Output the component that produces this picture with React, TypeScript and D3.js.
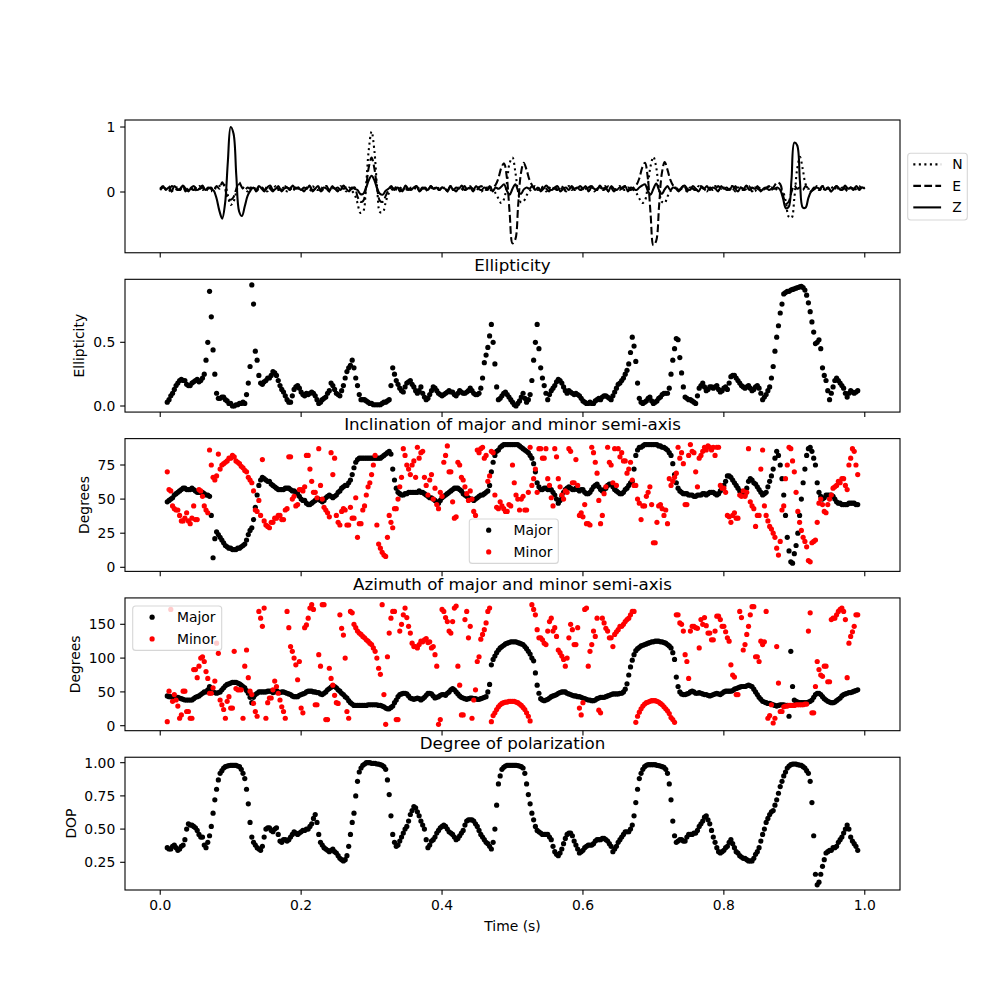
import React from 'react';
import * as d3 from 'd3';

// ---------- DATA ----------
// Seismogram traces (hundredths), rows of 25 samples, t = 0.1*row + 0.004*col
const TRACE_N: number[][] = [
  [7,3,5,9,1,5,7,3,9,5,3,7,1,5,9,3,7,5,1,7,5,9,12,10,-5],
  [-20,-15,0,12,8,5,1,7,3,9,5,7,3,1,7,5,9,3,5,7,1,5,9,3,7],
  [3,7,5,1,9,5,3,7,5,9,1,5,7,3,7,5,1,7,2,-4,-17,-32,-30,8,65],
  [93,63,5,-31,-31,-16,-3,2,7,3,5,9,1,7,5,3,9,5,7,1,5,7,3,9,5],
  [5,7,1,9,3,5,7,5,1,7,9,3,5,7,1,5,7,3,3,-2,-10,-17,-11,14,45],
  [53,31,0,-16,-14,-5,1,5,9,3,7,5,1,7,3,9,5,7,1,5,9,3,7,5,3],
  [7,5,1,9,5,3,7,5,9,1,7,3,5,9,5,3,7,5,3,-2,-10,-17,-13,10,40],
  [54,38,3,-15,-17,-7,1,5,7,3,9,5,1,7,5,3,9,7,5,1,7,5,9,3,5],
  [7,3,5,9,1,7,5,3,7,9,5,1,7,5,3,9,5,7,3,5,5,0,-15,-38,-40],
  [-10,35,54,35,12,5,7,3,9,5,1,7,5,9,3,7,5,1,9,5,7,3,5,9,5],
  [7],
];
const TRACE_E: number[][] = [
  [3,7,5,1,9,7,3,5,9,1,7,5,3,9,5,7,1,5,7,3,9,5,15,5,-10],
  [-12,-8,5,15,7,3,7,5,9,1,5,7,3,9,5,1,7,5,3,9,7,5,1,7,5],
  [5,1,7,9,3,5,7,1,5,9,3,7,5,1,9,5,7,3,5,7,-7,-15,-14,6,38],
  [53,36,5,-14,-15,-6,3,7,5,9,1,5,7,3,7,5,9,1,7,5,3,9,5,7,3],
  [7,5,3,9,5,1,7,5,9,3,7,5,1,7,9,5,3,7,7,11,21,37,44,22,-33],
  [-79,-73,-21,29,45,34,19,10,5,7,3,9,5,1,7,5,3,9,7,1,5,7,3,5,9],
  [5,3,7,9,1,5,7,3,5,9,7,1,5,3,7,9,5,3,7,11,21,37,45,22,-34],
  [-82,-75,-22,29,46,34,19,10,7,3,5,9,1,7,5,3,7,9,5,1,7,3,5,9,5],
  [7,3,5,1,9,5,7,3,5,9,1,7,5,3,7,5,9,3,10,15,12,-5,-18,-15,0],
  [10,5,7,3,9,5,1,7,5,3,9,5,7,1,5,9,3,7,5,1,7,5,9,3,7],
  [5],
];
const TRACE_Z: number[][] = [
  [5,9,3,7,1,9,5,3,10,5,1,7,9,3,5,10,3,7,5,2,-10,-29,-41,-18,47],
  [100,90,25,-30,-37,-22,-6,2,7,3,9,5,1,7,10,3,5,9,1,5,7,3,10,5,7],
  [3,7,5,10,1,5,9,3,7,5,1,9,5,7,3,10,5,1,7,5,3,-3,-3,6,18],
  [25,18,5,-3,-4,2,5,9,3,7,5,1,10,5,3,7,9,1,5,7,3,9,5,7,3],
  [7,5,1,9,3,7,5,10,3,5,7,1,9,5,3,7,5,9,1,7,5,8,12,2,-4],
  [5,12,2,-3,4,7,5,9,3,7,1,5,10,5,3,7,9,1,5,7,3,9,5,7,3],
  [5,9,1,7,5,3,10,5,7,1,9,5,3,7,5,9,1,7,5,3,7,10,12,2,-4],
  [5,13,3,-3,4,9,3,7,5,1,7,10,5,3,9,5,1,7,5,9,3,7,5,1,9],
  [5,7,3,9,5,1,7,5,10,3,7,5,9,1,5,7,3,5,5,7,3,-10,-25,-23,19],
  [76,72,16,-24,-24,-9,1,4,7,5,9,3,7,1,5,9,5,3,10,5,7,3,9,5,7],
  [5],
];
const TRACE_LABELS = ['N', 'E', 'Z'];

// Dot series, rows of 10 samples.
// "A" arrays: t = 0.01 + 0.05*row + 0.005*col ; "B" arrays: same times + 0.0025
const ELLIPTICITY_A: number[][] = [
  [.03,.08,.13,.18,.21,.2,.16,.18,.2,.19],
  [.22,.36,.9,.44,.1,.06,.07,.04,.02,0],
  [.01,.02,.02,.18,.95,.43,.24,.17,.2,.22],
  [.27,.24,.16,.11,.05,.03,.13,.16,.11,.08],
  [.09,.11,.08,.02,.05,.07,.12,.16,.1,.08],
  [.16,.27,.32,.3,.16,.05,.05,.03,.02,.01],
  [.01,.02,.03,.05,.3,.2,.14,.11,.18,.2],
  [.15,.1,.15,.07,.06,.12,.14,.1,.08,.1],
  [.12,.11,.08,.12,.1,.11,.14,.1,.09,.14],
  [.34,.46,.64,.33,.05,.08,.11,.07,.03,0],
  [.04,.1,.03,.09,.36,.64,.3,.16,.05,.12],
  [.16,.21,.18,.12,.12,.1,.1,.08,.04,.02],
  [.03,.02,.05,.05,.08,.07,.05,.11,.17,.2],
  [.25,.33,.54,.35,.06,.02,.04,.07,.02,.04],
  [.07,.1,.1,.25,.45,.52,.26,.07,.05,.04],
  [.02,.14,.18,.12,.15,.14,.16,.11,.14,.13],
  [.23,.24,.2,.16,.14,.16,.12,.15,.14,.05],
  [.09,.15,.31,.54,.73,.88,.9,.91,.92,.93],
  [.94,.91,.81,.66,.49,.52,.3,.2,.05,.15],
  [.22,.18,.14,.07,.12,.1,.12],
];
const ELLIPTICITY_B: number[][] = [
  [.05,.1,.16,.2,.2,.17,.16,.19,.21,.2],
  [.25,.5,.7,.25,.06,.07,.05,.02,0,.01],
  [.02,.03,.09,.31,.8,.36,.18,.19,.22,.24],
  [.26,.2,.13,.08,.03,.08,.15,.14,.09,.1],
  [.1,.1,.05,.03,.06,.1,.18,.13,.09,.12],
  [.22,.3,.36,.22,.09,.05,.04,.02,.01,.01],
  [.01,.03,.04,.16,.25,.17,.12,.15,.19,.17],
  [.12,.12,.1,.05,.09,.15,.12,.09,.09,.11],
  [.11,.09,.1,.11,.1,.12,.12,.09,.1,.22],
  [.4,.55,.5,.15,.06,.1,.09,.05,.01,.02],
  [.07,.06,.05,.2,.5,.45,.22,.1,.09,.14],
  [.19,.2,.15,.1,.11,.09,.09,.06,.03,.02],
  [.02,.04,.06,.07,.08,.06,.08,.14,.18,.22],
  [.28,.42,.47,.18,.03,.03,.06,.04,.03,.06],
  [.09,.1,.14,.36,.53,.38,.15,.06,.05,.03],
  [.08,.16,.15,.13,.15,.15,.13,.12,.15,.18],
  [.24,.22,.18,.15,.15,.14,.13,.16,.1,.07],
  [.12,.22,.43,.63,.8,.89,.9,.915,.925,.935],
  [.93,.87,.74,.58,.5,.45,.24,.12,.1,.2],
  [.2,.16,.1,.1,.11,.11],
];
const INCL_MAJOR_A: number[][] = [
  [48,50,53,55,57,58,57,58,56,55],
  [55,53,52,7,26,22,18,15,14,13],
  [14,15,17,24,29,44,60,66,64,63],
  [60,58,57,57,58,57,56,54,50,49],
  [46,47,49,50,48,51,53,51,53,56],
  [59,60,64,73,79,80,80,80,80,80],
  [80,81,83,85,72,58,54,53,54,55],
  [55,55,55,54,52,51,49,47,51,53],
  [55,57,58,57,54,52,50,49,51,53],
  [54,56,70,82,86,89,90,90,90,90],
  [89,87,85,82,76,62,57,58,57,57],
  [53,47,52,57,59,57,58,56,57,54],
  [55,59,61,57,57,60,61,57,55,54],
  [57,60,63,82,88,89,90,90,90,90],
  [89,88,86,82,68,58,55,54,53,53],
  [52,53,54,53,55,55,53,56,60,67],
  [66,62,58,55,53,63,64,61,57,53],
  [55,63,72,85,75,53,22,4,10,25],
  [50,72,87,85,75,55,50,53,53,52],
  [48,47,46,46,47,47,46],
];
const INCL_MAJOR_B: number[][] = [
  [49,51,54,56,58,57,57,57,55,55],
  [54,53,38,21,24,20,16,14,13,13],
  [14,16,20,27,35,53,64,65,63,61],
  [59,57,57,58,58,56,55,52,49,47],
  [46,48,50,49,49,52,52,52,55,58],
  [60,62,68,77,80,80,80,80,80,80],
  [80,82,84,83,64,55,53,54,55,55],
  [55,56,55,53,51,50,48,49,52,54],
  [56,58,58,56,53,51,50,50,52,53],
  [55,60,77,85,88,90,90,90,90,90],
  [88,86,84,80,70,59,57,58,57,55],
  [50,49,55,58,58,57,57,57,55,54],
  [57,60,59,56,58,61,59,56,54,55],
  [58,62,72,86,88,90,90,90,90,89],
  [88,87,84,76,62,56,54,54,53,52],
  [53,53,54,54,55,54,54,58,63,67],
  [64,60,56,54,58,65,62,59,55,54],
  [59,67,80,82,65,38,12,3,16,38],
  [62,82,88,80,62,52,51,53,53,50],
  [47,46,46,47,47,46],
];
const INCL_MINOR_A: number[][] = [
  [70,56,43,42,34,36,34,36,35,57],
  [52,42,86,66,67,72,76,78,80,81],
  [77,74,71,66,62,42,49,79,31,29],
  [33,36,38,35,43,81,52,46,57,59],
  [82,63,55,87,50,42,37,68,38,31],
  [43,31,44,36,22,32,45,59,68,82],
  [17,11,8,38,29,43,59,87,75,68],
  [78,88,84,66,53,68,58,43,52,82],
  [70,48,37,75,64,54,56,41,86,87],
  [80,63,85,53,43,45,41,46,75,53],
  [42,52,42,88,65,55,87,80,65,51],
  [87,65,53,56,87,62,79,38,37,32],
  [31,84,69,32,54,88,75,87,87,84],
  [78,72,64,60,47,45,52,59,18,33],
  [46,38,32,60,66,88,84,46,82,85],
  [70,80,85,86,88,88,88,60,58,38],
  [33,40,36,52,52,87,45,30,38,86],
  [38,30,25,14,19,45,75,87,70,41],
  [27,19,5,18,20,47,46,40,50,58],
  [60,62,65,57,80,85,68],
];
const INCL_MINOR_B: number[][] = [
  [57,45,42,38,34,40,32,45,35,56],
  [45,40,75,64,83,75,77,80,82,78],
  [76,73,70,64,56,41,38,34,30,33],
  [36,38,35,42,81,50,45,57,56,82],
  [72,55,51,60,44,40,84,80,33,41],
  [42,31,36,51,32,42,53,62,75,31],
  [14,9,22,33,43,50,66,82,72,75],
  [66,80,85,60,64,50,46,55,77,89],
  [70,36,77,66,59,49,50,38,84,88],
  [82,67,84,44,48,43,41,45,62,50],
  [50,42,55,60,72,87,80,87,60,45],
  [81,59,50,55,85,62,60,40,46,32],
  [88,77,49,38,59,77,62,60,81,78],
  [69,77,60,50,35,45,55,46,18,45],
  [43,42,65,63,69,80,76,46,90,84],
  [59,82,88,89,86,82,88,58,55,37],
  [38,36,53,56,55,48,43,38,72,45],
  [34,28,22,9,42,65,88,78,55,33],
  [22,15,4,19,33,50,41,46,53,59],
  [63,65,60,75,87,75],
];
const AZ_MAJOR_A: number[][] = [
  [44,43,42,42,40,38,38,38,42,44],
  [48,50,58,50,48,50,56,61,63,64],
  [63,60,56,48,34,46,50,50,50,51],
  [49,52,49,50,48,46,43,43,46,48],
  [51,51,50,49,46,50,55,59,56,51],
  [46,41,34,30,30,30,30,31,31,31],
  [30,29,26,25,29,38,46,48,47,41],
  [39,41,38,42,48,47,41,43,46,45],
  [50,55,50,44,41,39,41,40,39,40],
  [42,50,90,103,112,117,121,123,124,124],
  [122,120,114,106,96,60,40,37,39,43],
  [45,48,50,50,47,45,44,43,41,39],
  [38,37,40,42,42,44,46,47,47,48],
  [54,75,97,111,116,119,121,123,124,125],
  [124,123,120,115,98,58,47,46,48,51],
  [48,49,47,46,44,46,48,46,50,51],
  [51,54,56,58,58,60,58,50,42,36],
  [34,33,31,29,31,31,30,110,38,35],
  [34,34,35,38,46,48,43,38,35,34],
  [37,41,46,48,49,51,53],
];
const AZ_MAJOR_B: number[][] = [
  [43,42,42,41,39,38,38,40,43,46],
  [50,53,55,49,49,53,59,62,64,64],
  [62,58,52,42,42,48,50,50,51,51],
  [50,50,50,49,47,44,43,45,47,50],
  [51,50,49,47,48,53,57,58,53,48],
  [43,37,32,30,30,30,30,31,31,31],
  [30,28,25,27,34,43,47,48,44,40],
  [40,40,40,45,48,44,42,45,46,48],
  [53,53,47,42,40,40,41,40,39,41],
  [43,61,98,108,115,119,122,124,124,123],
  [121,117,110,100,78,48,38,38,41,44],
  [46,49,50,48,46,44,43,42,40,38],
  [37,38,41,42,43,45,47,47,48,50],
  [62,87,105,114,118,120,122,124,125,125],
  [124,122,118,108,72,50,46,47,50,50],
  [48,48,46,45,45,47,47,48,51,51],
  [52,55,57,58,59,59,54,46,39,35],
  [33,32,30,30,31,30,14,58,36,34],
  [34,34,36,42,48,46,40,36,34,35],
  [39,44,47,49,50,52],
];
const AZ_MINOR_A: number[][] = [
  [6,172,46,29,16,51,21,11,83,88],
  [102,80,48,56,122,38,24,36,26,110],
  [53,53,88,71,46,21,169,147,11,41],
  [53,58,38,21,169,117,100,68,26,145],
  [159,179,31,105,179,9,85,60,34,164],
  [134,21,169,150,140,135,130,125,120,110],
  [85,179,2,137,169,9,140,164,160,137],
  [117,115,125,127,123,115,105,2,172,160],
  [140,154,177,60,16,169,147,38,95,128],
  [142,169,6,19,28,33,35,36,36,35],
  [32,27,19,7,172,142,130,122,140,159],
  [145,112,103,88,130,142,120,26,34,174],
  [110,140,159,19,152,140,130,135,142,147],
  [154,159,169,5,20,29,34,36,37,36],
  [33,28,22,12,5,164,150,105,70,147],
  [145,115,150,148,137,127,162,157,147,130],
  [90,72,46,160,120,147,176,102,95,120],
  [169,15,4,117,21,28,29,30,30,31],
  [31,32,140,19,58,83,73,88,65,159],
  [164,172,169,71,132,147,164],
];
const AZ_MINOR_B: number[][] = [
  [51,36,38,11,51,21,11,83,71,100],
  [95,70,48,66,107,31,11,43,26,55],
  [53,11,112,51,33,14,159,174,34,41],
  [66,48,28,11,145,110,90,95,19,149],
  [174,172,31,88,179,9,70,45,33,144],
  [100,11,167,145,137,132,127,122,115,100],
  [76,46,102,159,169,9,150,174,147,122],
  [117,120,124,129,124,117,88,9,169,154],
  [137,174,88,16,157,130,11,53,102,135],
  [152,174,15,24,31,34,35,36,36,34],
  [30,24,14,179,164,130,127,120,154,140],
  [132,108,98,100,150,120,145,16,172,88],
  [120,132,23,159,144,130,117,139,147,150],
  [157,164,169,14,25,32,35,37,37,35],
  [31,25,18,9,164,152,140,95,140,147],
  [144,157,160,137,127,140,162,147,139,125],
  [75,46,169,112,135,164,176,102,125,124],
  [11,31,11,63,21,29,30,30,31,31],
  [31,32,167,19,95,75,88,65,157,159],
  [169,174,157,122,139,164],
];
const DOP_A: number[][] = [
  [.36,.35,.38,.34,.37,.42,.54,.53,.51,.46],
  [.44,.36,.45,.62,.8,.92,.96,.975,.98,.98],
  [.975,.95,.88,.69,.44,.38,.35,.37,.5,.51],
  [.48,.51,.41,.42,.41,.44,.48,.46,.48,.49],
  [.5,.54,.61,.46,.38,.35,.33,.35,.32,.28],
  [.26,.3,.46,.62,.86,.96,.99,1,.995,.995],
  [.99,.98,.95,.76,.46,.37,.41,.47,.52,.61],
  [.67,.63,.56,.5,.36,.41,.44,.49,.52,.52],
  [.48,.46,.42,.45,.49,.56,.57,.56,.52,.46],
  [.42,.39,.35,.5,.84,.95,.975,.98,.98,.98],
  [.975,.96,.84,.69,.57,.49,.47,.46,.46,.42],
  [.33,.3,.35,.43,.47,.45,.38,.32,.34,.37],
  [.38,.39,.42,.42,.43,.41,.37,.35,.4,.44],
  [.48,.48,.53,.7,.88,.95,.98,.985,.985,.98],
  [.975,.965,.92,.72,.45,.41,.42,.41,.46,.46],
  [.47,.52,.56,.6,.54,.44,.36,.32,.34,.37],
  [.42,.36,.32,.29,.28,.26,.26,.31,.36,.46],
  [.55,.61,.64,.72,.82,.9,.96,.985,.99,.985],
  [.98,.96,.92,.7,.16,.1,.22,.32,.34,.36],
  [.37,.42,.47,.53,.44,.39,.34],
];
const DOP_B: number[][] = [
  [.35,.37,.36,.35,.38,.5,.53,.52,.49,.44],
  [.38,.4,.52,.72,.87,.94,.97,.978,.98,.98],
  [.97,.92,.8,.55,.4,.36,.34,.44,.51,.49],
  [.5,.46,.4,.42,.42,.46,.47,.47,.49,.5],
  [.52,.58,.55,.4,.36,.34,.34,.33,.3,.27],
  [.27,.37,.55,.75,.93,.98,1,1,.995,.99],
  [.985,.97,.87,.6,.4,.38,.44,.5,.56,.64],
  [.66,.6,.53,.42,.38,.42,.47,.51,.53,.5],
  [.47,.44,.43,.47,.53,.57,.57,.54,.49,.44],
  [.4,.37,.4,.68,.9,.965,.98,.98,.98,.978],
  [.97,.92,.76,.62,.52,.48,.46,.46,.44,.37],
  [.31,.32,.39,.46,.47,.41,.35,.33,.36,.38],
  [.38,.41,.42,.43,.42,.39,.33,.37,.42,.46],
  [.48,.5,.6,.8,.92,.97,.985,.985,.985,.978],
  [.97,.95,.84,.56,.4,.42,.41,.44,.46,.47],
  [.49,.54,.59,.57,.49,.4,.33,.33,.36,.4],
  [.39,.33,.3,.28,.27,.26,.28,.33,.41,.5],
  [.58,.63,.68,.77,.86,.93,.975,.99,.99,.982],
  [.97,.94,.86,.45,.08,.16,.27,.33,.34,.36],
  [.4,.44,.5,.5,.41,.37],
];

const X_TICKS = [0, 0.2, 0.4, 0.6, 0.8, 1.0];

// ---------- LAYOUT ----------
const LEFT = 125;
const RIGHT = 900;
const PH = 132.76;
const TOPS = [120, 279.31, 438.62, 597.93, 757.24];
const FONT = 'DejaVu Sans, sans-serif';
const TICK_FS = 13.9;

type Pt = [number, number];

function dotRows(rowsA: number[][], rowsB: number[][]): Pt[] {
  const pts: Pt[] = [];
  rowsA.forEach((row, r) => row.forEach((v, c) => pts.push([0.01 + 0.05 * r + 0.005 * c, v])));
  rowsB.forEach((row, r) => row.forEach((v, c) => pts.push([0.0125 + 0.05 * r + 0.005 * c, v])));
  pts.sort((a, b) => a[0] - b[0]);
  return pts;
}
function traceRows(rows: number[][]): Pt[] {
  const pts: Pt[] = [];
  rows.forEach((row, r) => row.forEach((v, c) => pts.push([0.1 * r + 0.004 * c, v / 100])));
  return pts;
}

const x = d3.scaleLinear().domain([-0.05, 1.05]).range([LEFT, RIGHT]);

interface PanelDef {
  top: number;
  domain: [number, number];
  ticks: number[];
  fmt: (d: number) => string;
  title?: string;
  ylabel?: string;
  ylx?: number;
}

const PANELS: PanelDef[] = [
  { top: TOPS[0], domain: [-0.935, 1.108], ticks: [0, 1], fmt: d => String(d) },
  { top: TOPS[1], domain: [-0.0476, 0.9944], ticks: [0, 0.5], fmt: d3.format('.1f'), title: 'Ellipticity', ylabel: 'Ellipticity', ylx: 84 },
  { top: TOPS[2], domain: [-2.99, 94.34], ticks: [0, 25, 50, 75], fmt: d => String(d), title: 'Inclination of major and minor semi-axis', ylabel: 'Degrees', ylx: 88.5 },
  { top: TOPS[3], domain: [-7.38, 189.0], ticks: [0, 50, 100, 150], fmt: d => String(d), title: 'Azimuth of major and minor semi-axis', ylabel: 'Degrees', ylx: 80 },
  { top: TOPS[4], domain: [0.0414, 1.041], ticks: [0.25, 0.5, 0.75, 1.0], fmt: d3.format('.2f'), title: 'Degree of polarization', ylabel: 'DOP', ylx: 76 },
];

const yScale = (p: PanelDef) => d3.scaleLinear().domain(p.domain).range([p.top + PH, p.top]);

const R_DOT = 2.6;

function Dots({ pts, y, color, clip }: { pts: Pt[]; y: d3.ScaleLinear<number, number>; color: string; clip: string }) {
  return (
    <g clipPath={`url(#${clip})`}>
      {pts.map((p, i) => (
        <circle key={i} cx={x(p[0])} cy={y(p[1])} r={R_DOT} fill={color} />
      ))}
    </g>
  );
}

function Axes({ p, idx, children }: { p: PanelDef; idx: number; children?: React.ReactNode }) {
  const y = yScale(p);
  const bottom = p.top + PH;
  const cx = (LEFT + RIGHT) / 2;
  return (
    <g>
      <defs>
        <clipPath id={`clip${idx}`}>
          <rect x={LEFT} y={p.top} width={RIGHT - LEFT} height={PH} />
        </clipPath>
      </defs>
      {children}
      <rect x={LEFT} y={p.top} width={RIGHT - LEFT} height={PH} fill="none" stroke="#000" strokeWidth={1.1} />
      {X_TICKS.map(t => (
        <line key={t} x1={x(t)} x2={x(t)} y1={bottom} y2={bottom + 4.86} stroke="#000" strokeWidth={1.1} />
      ))}
      {p.ticks.map(t => (
        <g key={t}>
          <line x1={LEFT - 4.86} x2={LEFT} y1={y(t)} y2={y(t)} stroke="#000" strokeWidth={1.1} />
          <text x={LEFT - 9.7} y={y(t)} dy="0.36em" textAnchor="end" fontSize={TICK_FS} fontFamily={FONT} fill="#000">
            {p.fmt(t)}
          </text>
        </g>
      ))}
      {p.title && (
        <text x={cx} y={p.top - 8.3} textAnchor="middle" fontSize={16.7} fontFamily={FONT} fill="#000">
          {p.title}
        </text>
      )}
      {p.ylabel && (
        <text
          transform={`translate(${p.ylx},${p.top + PH / 2}) rotate(-90)`}
          textAnchor="middle"
          fontSize={TICK_FS}
          fontFamily={FONT}
          fill="#000"
        >
          {p.ylabel}
        </text>
      )}
    </g>
  );
}

function DotLegend({ left, top, items }: { left: number; top: number; items: { label: string; color: string }[] }) {
  const w = 89;
  const h = 44.4;
  return (
    <g>
      <rect x={left} y={top} width={w} height={h} rx={3} fill="#fff" fillOpacity={0.8} stroke="#cccccc" strokeOpacity={0.8} strokeWidth={1.1} />
      {items.map((it, i) => {
        const cy = top + 11.2 + i * 21.7;
        return (
          <g key={it.label}>
            <circle cx={left + 19.4} cy={cy} r={R_DOT} fill={it.color} />
            <text x={left + 44.3} y={cy} dy="0.36em" fontSize={TICK_FS} fontFamily={FONT} fill="#000">
              {it.label}
            </text>
          </g>
        );
      })}
    </g>
  );
}

export default function App() {
  const traces = [traceRows(TRACE_N), traceRows(TRACE_E), traceRows(TRACE_Z)];
  const dashes = ['2.08,3.44', '7.7,3.33', undefined];
  const y0 = yScale(PANELS[0]);
  const line = d3
    .line<Pt>()
    .x(d => x(d[0]))
    .y(d => y0(d[1]))
    .curve(d3.curveCatmullRom.alpha(0.5));

  const y1 = yScale(PANELS[1]);
  const y2 = yScale(PANELS[2]);
  const y3 = yScale(PANELS[3]);
  const y4 = yScale(PANELS[4]);

  return (
    <svg width={1000} height={1000} style={{ position: 'absolute', left: 0, top: 0, background: '#fff' }}>
      <rect x={0} y={0} width={1000} height={1000} fill="#fff" />
      <Axes p={PANELS[0]} idx={0}>
        <g clipPath="url(#clip0)">
          {traces.map((tr, i) => (
            <path key={i} d={line(tr) || ''} fill="none" stroke="#000" strokeWidth={2.08} strokeDasharray={dashes[i]} />
          ))}
        </g>
      </Axes>
      {/* Panel 1 legend */}
      <g>
        <rect x={907.7} y={153.3} width={59.6} height={66.7} rx={3} fill="#fff" fillOpacity={0.8} stroke="#cccccc" strokeOpacity={0.8} strokeWidth={1.1} />
        {TRACE_LABELS.map((lab, i) => {
          const cy = 164.4 + i * 21.5;
          return (
            <g key={lab}>
              <line x1={913.3} x2={941.1} y1={cy} y2={cy} stroke="#000" strokeWidth={2.08} strokeDasharray={dashes[i]} />
              <text x={952.2} y={cy} dy="0.36em" fontSize={TICK_FS} fontFamily={FONT} fill="#000">
                {lab}
              </text>
            </g>
          );
        })}
      </g>

      <Axes p={PANELS[1]} idx={1}>
        <Dots pts={dotRows(ELLIPTICITY_A, ELLIPTICITY_B)} y={y1} color="#000" clip="clip1" />
      </Axes>

      <Axes p={PANELS[2]} idx={2}>
        <Dots pts={dotRows(INCL_MAJOR_A, INCL_MAJOR_B)} y={y2} color="#000" clip="clip2" />
        <Dots pts={dotRows(INCL_MINOR_A, INCL_MINOR_B)} y={y2} color="#ff0000" clip="clip2" />
        <DotLegend left={469.3} top={519} items={[{ label: 'Major', color: '#000' }, { label: 'Minor', color: '#ff0000' }]} />
      </Axes>

      <Axes p={PANELS[3]} idx={3}>
        <Dots pts={dotRows(AZ_MAJOR_A, AZ_MAJOR_B)} y={y3} color="#000" clip="clip3" />
        <Dots pts={dotRows(AZ_MINOR_A, AZ_MINOR_B)} y={y3} color="#ff0000" clip="clip3" />
        <DotLegend left={132.7} top={606} items={[{ label: 'Major', color: '#000' }, { label: 'Minor', color: '#ff0000' }]} />
      </Axes>

      <Axes p={PANELS[4]} idx={4}>
        <Dots pts={dotRows(DOP_A, DOP_B)} y={y4} color="#000" clip="clip4" />
      </Axes>

      {X_TICKS.map(t => (
        <text key={t} x={x(t)} y={910} textAnchor="middle" fontSize={TICK_FS} fontFamily={FONT} fill="#000">
          {d3.format('.1f')(t)}
        </text>
      ))}
      <text x={(LEFT + RIGHT) / 2} y={930.5} textAnchor="middle" fontSize={TICK_FS} fontFamily={FONT} fill="#000">
        Time (s)
      </text>
    </svg>
  );
}
